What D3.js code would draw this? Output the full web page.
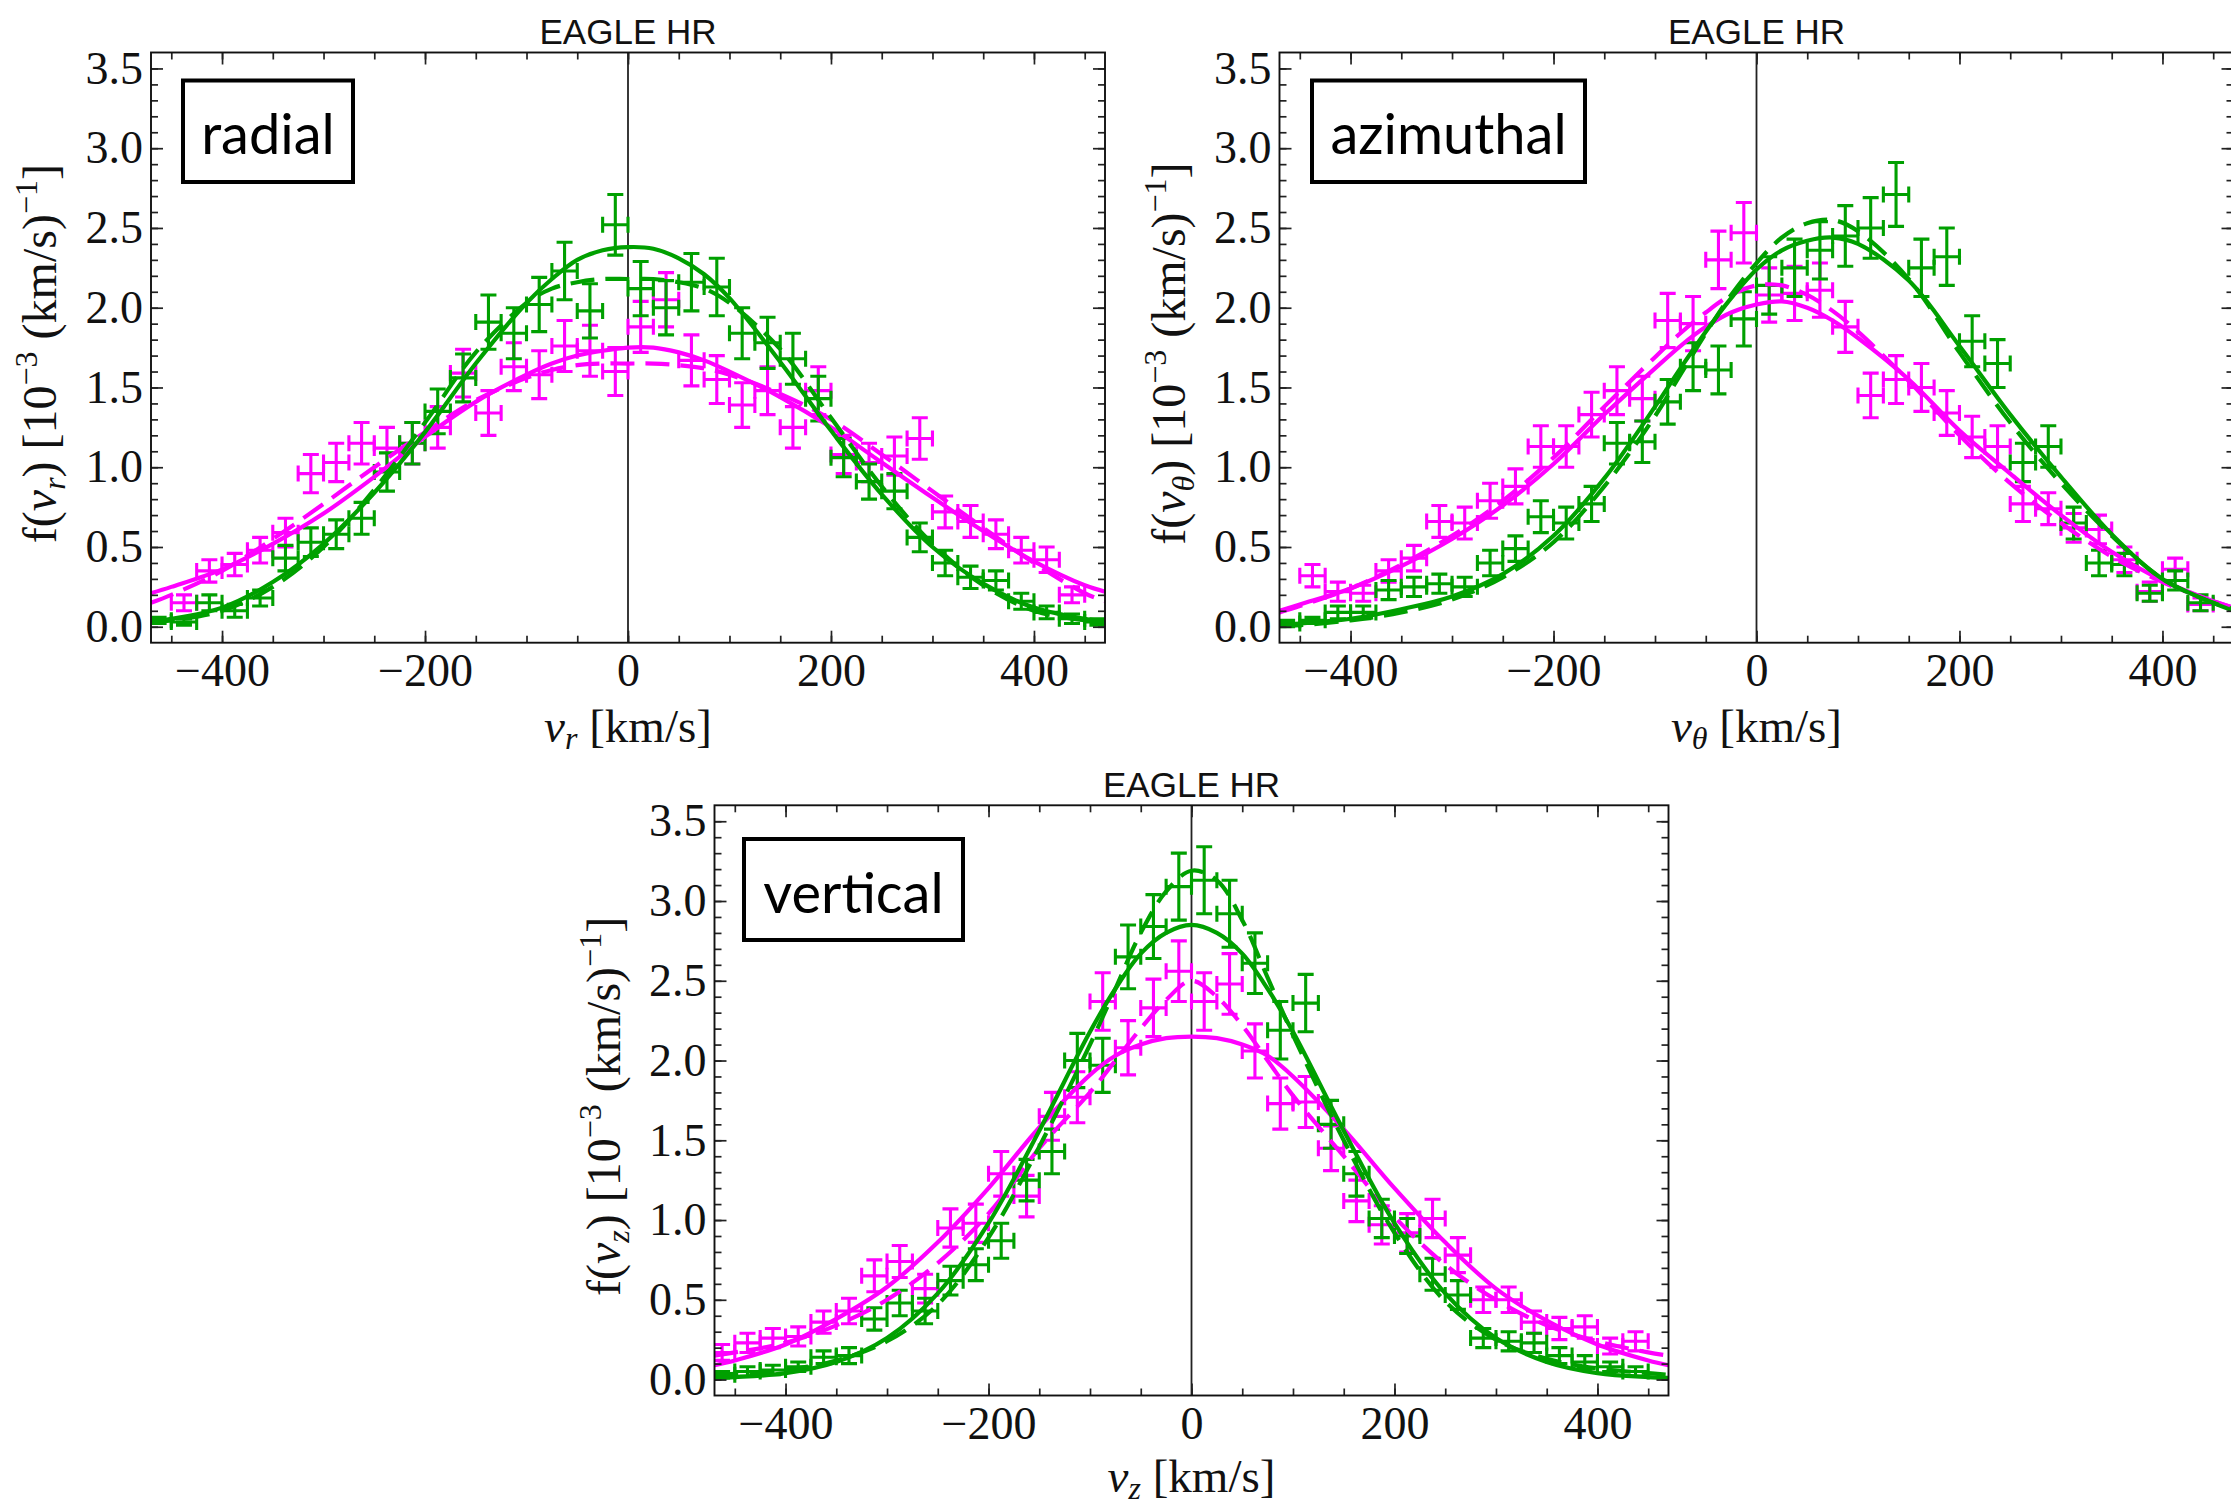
<!DOCTYPE html>
<html><head><meta charset="utf-8">
<script src="https://cdn.jsdelivr.net/npm/d3@7"></script>
<style>
html,body{margin:0;padding:0;background:#fff;}
svg{display:block;}
</style></head>
<body>
<svg id="chart" width="2231" height="1509"></svg>
<script>
// ---------------- DATA ----------------
const panelTitle = "EAGLE HR";
const componentNames = ["radial", "azimuthal", "vertical"];
const velocitySubscripts = ["r", "θ", "z"];

const binCenters = [-462.5,-437.5,-412.5,-387.5,-362.5,-337.5,-312.5,-287.5,-262.5,-237.5,-212.5,-187.5,-162.5,-137.5,-112.5,-87.5,-62.5,-37.5,-12.5,12.5,37.5,62.5,87.5,112.5,137.5,162.5,187.5,212.5,237.5,262.5,287.5,312.5,337.5,362.5,387.5,412.5,437.5,462.5];
const binHalfWidth = 12.5;

const radialGreen = [0.04,0.03,0.15,0.10,0.18,0.43,0.53,0.58,0.68,0.97,1.15,1.35,1.56,1.91,1.84,2.02,2.23,1.98,2.52,2.12,2.00,2.16,2.13,1.84,1.78,1.68,1.43,1.06,0.91,0.85,0.56,0.40,0.31,0.29,0.16,0.09,0.05,0.03];
const radialGreenErr = [0.02,0.02,0.05,0.04,0.05,0.08,0.09,0.09,0.10,0.12,0.13,0.14,0.15,0.17,0.16,0.17,0.18,0.17,0.19,0.17,0.17,0.18,0.18,0.16,0.16,0.16,0.14,0.12,0.11,0.11,0.09,0.08,0.07,0.06,0.05,0.04,0.03,0.02];
const radialMagenta = [null,0.15,0.35,0.39,0.48,0.59,0.96,1.03,1.15,1.12,1.15,1.25,1.59,1.34,1.63,1.58,1.76,1.73,1.60,1.88,2.05,1.67,1.55,1.39,1.48,1.25,1.48,1.08,1.03,1.07,1.18,0.72,0.66,0.58,0.48,0.42,0.20,null];
const radialMagentaErr = [null,0.05,0.07,0.07,0.08,0.09,0.12,0.12,0.13,0.13,0.13,0.13,0.15,0.14,0.15,0.15,0.16,0.16,0.15,0.16,0.17,0.16,0.15,0.14,0.15,0.13,0.15,0.12,0.12,0.12,0.13,0.10,0.10,0.09,0.08,0.08,0.05,null];

const azimuthalGreen = [0.02,0.04,0.09,0.09,0.23,0.25,0.27,0.25,0.40,0.49,0.69,0.65,0.77,1.15,1.16,1.41,1.63,1.61,1.93,2.14,2.25,2.36,2.45,2.50,2.71,2.25,2.32,1.79,1.65,1.03,1.13,0.65,0.40,0.39,0.21,0.29,0.15,null];
const azimuthalGreenErr = [0.02,0.02,0.04,0.04,0.06,0.06,0.06,0.06,0.08,0.08,0.10,0.10,0.11,0.13,0.13,0.14,0.15,0.15,0.17,0.18,0.18,0.18,0.19,0.19,0.20,0.18,0.18,0.16,0.15,0.12,0.13,0.10,0.08,0.07,0.05,0.06,0.05,null];
const azimuthalMagenta = [null,0.32,0.22,0.21,0.35,0.43,0.66,0.65,0.79,0.88,1.13,1.13,1.33,1.48,1.43,1.92,1.90,2.30,2.47,2.08,2.09,2.11,1.88,1.45,1.55,1.50,1.34,1.19,1.13,0.77,0.74,0.62,0.61,0.42,0.22,0.36,0.14,null];
const azimuthalMagentaErr = [null,0.07,0.06,0.05,0.07,0.08,0.10,0.10,0.11,0.11,0.13,0.13,0.14,0.15,0.14,0.17,0.17,0.18,0.19,0.17,0.17,0.17,0.16,0.14,0.15,0.15,0.14,0.13,0.13,0.11,0.10,0.09,0.09,0.08,0.06,0.07,0.04,null];

const verticalGreen = [0.03,0.05,0.06,0.08,0.14,0.15,0.38,0.48,0.43,0.62,0.72,0.87,1.25,1.43,2.00,1.97,2.65,2.84,3.09,3.13,2.92,2.61,2.19,2.36,1.60,1.29,1.01,0.90,0.66,0.53,0.26,0.24,0.23,0.15,0.11,0.08,0.05,null];
const verticalGreenErr = [0.02,0.03,0.03,0.03,0.04,0.05,0.07,0.08,0.08,0.09,0.10,0.11,0.13,0.14,0.17,0.17,0.20,0.20,0.21,0.21,0.21,0.19,0.18,0.18,0.15,0.14,0.12,0.11,0.10,0.09,0.06,0.06,0.06,0.05,0.04,0.03,0.03,null];
const verticalMagenta = [0.17,0.23,0.26,0.27,0.36,0.43,0.65,0.74,0.57,0.95,0.98,1.29,1.15,1.65,1.77,2.37,2.08,2.33,2.56,2.37,2.48,2.06,1.73,1.74,1.45,1.12,0.97,0.92,1.01,0.78,0.50,0.50,0.36,0.32,0.33,0.21,0.24,null];
const verticalMagentaErr = [0.05,0.06,0.06,0.06,0.07,0.08,0.10,0.10,0.09,0.12,0.12,0.14,0.13,0.15,0.16,0.18,0.17,0.18,0.19,0.18,0.19,0.17,0.16,0.16,0.14,0.13,0.12,0.12,0.12,0.11,0.08,0.08,0.07,0.07,0.07,0.05,0.06,null];

// fitted model curves, sampled at curveX
const curveX = [-470,-450,-400,-350,-300,-250,-200,-150,-100,-75,-50,-25,0,25,50,75,100,150,200,250,300,350,400,450,470];
const radialGreenSolid    = [0.035,0.05,0.12,0.28,0.52,0.84,1.22,1.65,2.03,2.18,2.30,2.36,2.38,2.37,2.31,2.21,2.06,1.66,1.23,0.83,0.50,0.27,0.12,0.05,0.035];
const radialGreenDashed   = [0.03,0.04,0.10,0.25,0.50,0.86,1.28,1.72,2.03,2.12,2.16,2.18,2.18,2.18,2.16,2.12,2.03,1.74,1.31,0.88,0.52,0.26,0.10,0.04,0.03];
const radialMagentaSolid  = [0.21,0.25,0.36,0.52,0.71,0.94,1.19,1.41,1.58,1.65,1.70,1.73,1.75,1.75,1.72,1.67,1.60,1.44,1.25,1.03,0.81,0.60,0.41,0.26,0.22];
const radialMagentaDashed = [0.15,0.20,0.35,0.55,0.77,1.00,1.22,1.42,1.56,1.61,1.64,1.65,1.65,1.65,1.64,1.62,1.58,1.46,1.30,1.08,0.85,0.62,0.40,0.21,0.16];

const azimuthalGreenSolid    = [0.01,0.02,0.05,0.11,0.19,0.33,0.57,0.93,1.38,1.62,1.85,2.06,2.24,2.36,2.42,2.44,2.40,2.17,1.76,1.33,0.94,0.58,0.30,0.15,0.10];
const azimuthalGreenDashed   = [0.005,0.01,0.04,0.09,0.17,0.31,0.53,0.88,1.32,1.58,1.84,2.08,2.28,2.44,2.53,2.55,2.48,2.18,1.72,1.28,0.90,0.57,0.30,0.15,0.11];
const azimuthalMagentaSolid  = [0.10,0.14,0.24,0.38,0.55,0.76,1.02,1.33,1.62,1.76,1.88,1.97,2.02,2.04,2.00,1.92,1.81,1.55,1.23,0.96,0.70,0.47,0.29,0.16,0.12];
const azimuthalMagentaDashed = [0.09,0.13,0.24,0.39,0.57,0.79,1.06,1.38,1.69,1.84,1.97,2.08,2.14,2.14,2.08,1.98,1.85,1.54,1.20,0.90,0.65,0.44,0.28,0.16,0.12];

const verticalGreenSolid    = [0.01,0.015,0.04,0.11,0.26,0.54,0.98,1.56,2.18,2.45,2.67,2.80,2.85,2.80,2.67,2.45,2.18,1.56,0.98,0.54,0.26,0.11,0.04,0.015,0.01];
const verticalGreenDashed   = [0.03,0.035,0.06,0.12,0.24,0.47,0.89,1.46,2.10,2.45,2.80,3.06,3.19,3.13,2.88,2.52,2.16,1.50,0.92,0.49,0.25,0.13,0.07,0.04,0.03];
const verticalMagentaSolid  = [0.09,0.12,0.22,0.38,0.58,0.86,1.20,1.58,1.91,2.03,2.10,2.14,2.15,2.14,2.10,2.03,1.90,1.57,1.20,0.86,0.57,0.37,0.22,0.12,0.09];
const verticalMagentaDashed = [0.15,0.17,0.23,0.34,0.50,0.73,1.04,1.45,1.80,2.00,2.20,2.38,2.50,2.40,2.22,2.00,1.78,1.40,1.02,0.72,0.50,0.34,0.24,0.17,0.15];

// axes
const xDomain = [-470, 470];
const yDomain = [-0.1, 3.6];
const xTicks = [-400, -200, 0, 200, 400];
const xTickLabels = ["−400", "−200", "0", "200", "400"];
const xMinorTicks = [-450,-400,-350,-300,-250,-200,-150,-100,-50,0,50,100,150,200,250,300,350,400,450];
const yTicks = [0, 0.5, 1, 1.5, 2, 2.5, 3, 3.5];
const yTickLabels = ["0.0", "0.5", "1.0", "1.5", "2.0", "2.5", "3.0", "3.5"];
const yMinorTicks = [0,0.1,0.2,0.3,0.4,0.5,0.6,0.7,0.8,0.9,1.0,1.1,1.2,1.3,1.4,1.5,1.6,1.7,1.8,1.9,2.0,2.1,2.2,2.3,2.4,2.5,2.6,2.7,2.8,2.9,3.0,3.1,3.2,3.3,3.4,3.5];

// ---------------- LAYOUT / STYLE ----------------
const GREEN = "#00a000";
const MAGENTA = "#ff00ff";
const SERIF = "'Liberation Serif','Times New Roman',serif";
const SANS = "'Liberation Sans',Arial,sans-serif";
const LABELFONT = "Lato,'Open Sans',sans-serif";

const layout = [
  {left: 151,    right: 1105,   top: 52.5,  bottom: 642.7,  xLabelY: 742, box: {x: 181,  y: 78.5, w: 174, h: 105.5}},
  {left: 1279.5, right: 2233.5, top: 52.5,  bottom: 642.7,  xLabelY: 742, box: {x: 1310, y: 78.5, w: 277, h: 105.5}},
  {left: 714.5,  right: 1668.5, top: 805.3, bottom: 1395.5, xLabelY: 1492, box: {x: 742,  y: 837,  w: 223, h: 105}}
];

const datasets = [
  {g: radialGreen, ge: radialGreenErr, m: radialMagenta, me: radialMagentaErr,
   gs: radialGreenSolid, gd: radialGreenDashed, ms: radialMagentaSolid, md: radialMagentaDashed},
  {g: azimuthalGreen, ge: azimuthalGreenErr, m: azimuthalMagenta, me: azimuthalMagentaErr,
   gs: azimuthalGreenSolid, gd: azimuthalGreenDashed, ms: azimuthalMagentaSolid, md: azimuthalMagentaDashed},
  {g: verticalGreen, ge: verticalGreenErr, m: verticalMagenta, me: verticalMagentaErr,
   gs: verticalGreenSolid, gd: verticalGreenDashed, ms: verticalMagentaSolid, md: verticalMagentaDashed}
];

const svg = d3.select("#chart");
const defs = svg.append("defs");

function drawErrorBars(g, x, y, vals, errs, color) {
  const cap = 8;
  const pts = binCenters.map((c, i) => ({c, v: vals[i], e: errs[i]})).filter(d => d.v != null);
  const grp = g.append("g").attr("stroke", color).attr("stroke-width", 3.1).attr("fill", "none");
  pts.forEach(d => {
    const cx = x(d.c), cy = y(d.v);
    const y1 = y(d.v - d.e), y2 = y(d.v + d.e);
    const xl = x(d.c - binHalfWidth), xr = x(d.c + binHalfWidth);
    const path = d3.path();
    path.moveTo(cx, y1); path.lineTo(cx, y2);
    path.moveTo(cx - cap, y1); path.lineTo(cx + cap, y1);
    path.moveTo(cx - cap, y2); path.lineTo(cx + cap, y2);
    path.moveTo(xl, cy); path.lineTo(xr, cy);
    path.moveTo(xl, cy - cap); path.lineTo(xl, cy + cap);
    path.moveTo(xr, cy - cap); path.lineTo(xr, cy + cap);
    grp.append("path").attr("d", path.toString());
  });
}

function styleAxis(sel) {
  sel.select(".domain").remove();
  sel.selectAll(".tick line").attr("stroke", "#222").attr("stroke-width", 1.7);
  sel.selectAll(".tick text").attr("font-family", SERIF).attr("font-size", 46).attr("fill", "#111");
  sel.attr("font-family", null).attr("font-size", null);
}

layout.forEach((L, i) => {
  const D = datasets[i];
  const x = d3.scaleLinear().domain(xDomain).range([L.left, L.right]);
  const y = d3.scaleLinear().domain(yDomain).range([L.bottom, L.top]);
  const g = svg.append("g");

  const clipId = "clip" + i;
  defs.append("clipPath").attr("id", clipId).append("rect")
    .attr("x", L.left).attr("y", L.top).attr("width", L.right - L.left).attr("height", L.bottom - L.top);
  const plot = g.append("g").attr("clip-path", `url(#${clipId})`);

  plot.append("line").attr("x1", x(0)).attr("x2", x(0)).attr("y1", L.top).attr("y2", L.bottom)
    .attr("stroke", "#222").attr("stroke-width", 1.8);

  drawErrorBars(plot, x, y, D.m, D.me, MAGENTA);
  drawErrorBars(plot, x, y, D.g, D.ge, GREEN);

  const line = d3.line().x(d => x(d[0])).y(d => y(d[1])).curve(d3.curveCatmullRom.alpha(0.5));
  const curves = [
    {vals: D.ms, color: MAGENTA, dash: null},
    {vals: D.md, color: MAGENTA, dash: "24,11"},
    {vals: D.gs, color: GREEN, dash: null},
    {vals: D.gd, color: GREEN, dash: "24,11"}
  ];
  curves.forEach(cv => {
    plot.append("path").datum(curveX.map((xv, k) => [xv, cv.vals[k]]))
      .attr("d", line).attr("fill", "none").attr("stroke", cv.color)
      .attr("stroke-width", 4.2).attr("stroke-dasharray", cv.dash);
  });

  const gb = g.append("g").attr("transform", `translate(0,${L.bottom})`)
    .call(d3.axisBottom(x).tickValues(xTicks).tickFormat((d, k) => xTickLabels[k]).tickSize(-12).tickPadding(11));
  styleAxis(gb);
  const gbm = g.append("g").attr("transform", `translate(0,${L.bottom})`)
    .call(d3.axisBottom(x).tickValues(xMinorTicks).tickFormat("").tickSize(-7));
  styleAxis(gbm);
  const gt = g.append("g").attr("transform", `translate(0,${L.top})`)
    .call(d3.axisTop(x).tickValues(xTicks).tickFormat("").tickSize(-12));
  styleAxis(gt);
  const gtm = g.append("g").attr("transform", `translate(0,${L.top})`)
    .call(d3.axisTop(x).tickValues(xMinorTicks).tickFormat("").tickSize(-7));
  styleAxis(gtm);
  const gl = g.append("g").attr("transform", `translate(${L.left},0)`)
    .call(d3.axisLeft(y).tickValues(yTicks).tickFormat((d, k) => yTickLabels[k]).tickSize(-12).tickPadding(8));
  styleAxis(gl);
  const glm = g.append("g").attr("transform", `translate(${L.left},0)`)
    .call(d3.axisLeft(y).tickValues(yMinorTicks).tickFormat("").tickSize(-7));
  styleAxis(glm);
  const gr = g.append("g").attr("transform", `translate(${L.right},0)`)
    .call(d3.axisRight(y).tickValues(yTicks).tickFormat("").tickSize(-12));
  styleAxis(gr);
  const grm = g.append("g").attr("transform", `translate(${L.right},0)`)
    .call(d3.axisRight(y).tickValues(yMinorTicks).tickFormat("").tickSize(-7));
  styleAxis(grm);

  g.append("rect").attr("x", L.left).attr("y", L.top).attr("width", L.right - L.left).attr("height", L.bottom - L.top)
    .attr("fill", "none").attr("stroke", "#111").attr("stroke-width", 1.9);

  g.append("text").attr("x", x(0)).attr("y", L.top - 8.5).attr("text-anchor", "middle")
    .attr("font-family", SANS).attr("font-size", 35).attr("fill", "#111").text(panelTitle);

  const xl = g.append("text").attr("x", x(0)).attr("y", L.xLabelY).attr("text-anchor", "middle")
    .attr("font-family", SERIF).attr("font-size", 47).attr("fill", "#111");
  xl.append("tspan").attr("font-style", "italic").text("v");
  xl.append("tspan").attr("font-style", "italic").attr("font-size", 32).attr("dy", 7).text(velocitySubscripts[i]);
  xl.append("tspan").attr("dy", -7).text(" [km/s]");

  const yl = g.append("text")
    .attr("transform", `translate(${L.left - 95},${(L.top + L.bottom) / 2 + 6}) rotate(-90)`)
    .attr("text-anchor", "middle").attr("font-family", SERIF).attr("font-size", 48).attr("fill", "#111");
  yl.append("tspan").text("f(");
  yl.append("tspan").attr("font-style", "italic").text("v");
  yl.append("tspan").attr("font-style", "italic").attr("font-size", 32).attr("dy", 9).text(velocitySubscripts[i]);
  yl.append("tspan").attr("dy", -9).text(")  [10");
  yl.append("tspan").attr("font-size", 32).attr("dy", -19).text("−3");
  yl.append("tspan").attr("dy", 19).text(" (km/s)");
  yl.append("tspan").attr("font-size", 32).attr("dy", -19).text("−1");
  yl.append("tspan").attr("dy", 19).text("]");

  const B = L.box;
  g.append("rect").attr("x", B.x + 2).attr("y", B.y + 2).attr("width", B.w - 4).attr("height", B.h - 4)
    .attr("fill", "#fff").attr("stroke", "#000").attr("stroke-width", 4);
  g.append("text").attr("x", B.x + B.w / 2).attr("y", B.y + 75.5).attr("text-anchor", "middle")
    .attr("font-family", LABELFONT).attr("font-size", 56).attr("fill", "#000").text(componentNames[i]);
});
</script>
</body></html>
